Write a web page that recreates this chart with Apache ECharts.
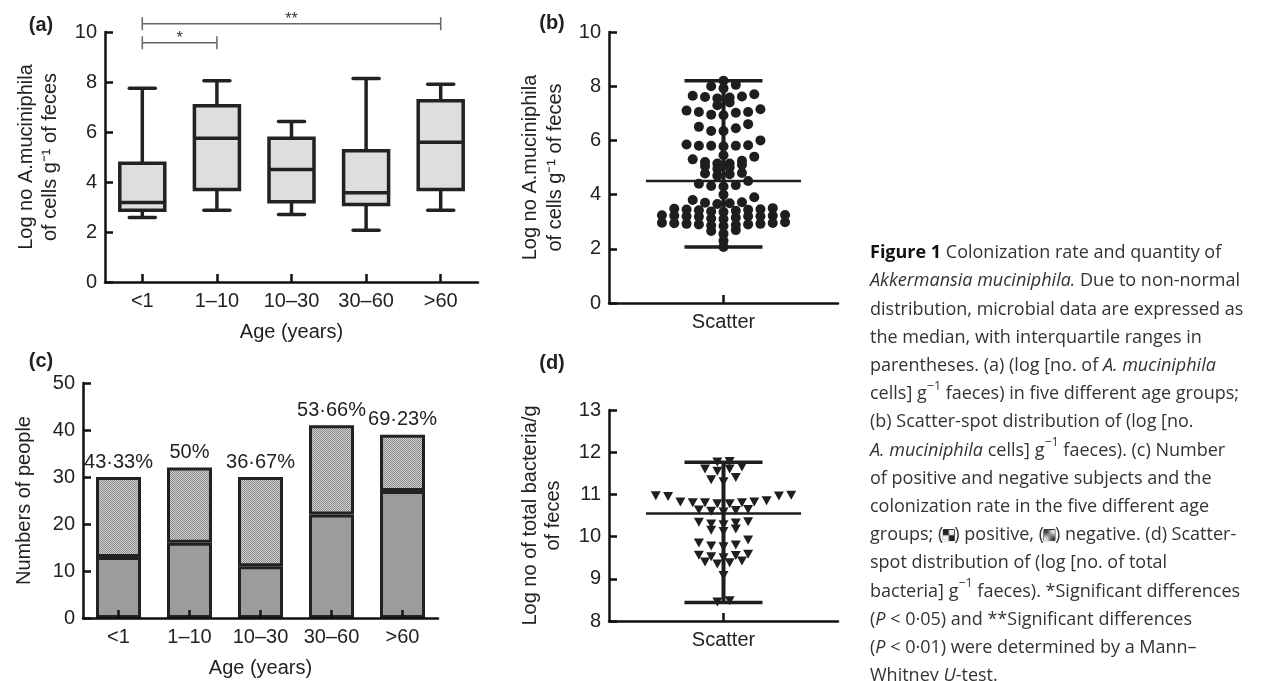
<!DOCTYPE html>
<html><head><meta charset="utf-8">
<script src="https://cdn.jsdelivr.net/npm/echarts@6/dist/echarts.min.js"></script>
<style>html,body{margin:0;padding:0;background:#fff}#c{width:1265px;height:681px}</style>
</head><body><div id="c"></div>
<script>
// ---------- data ----------
const ageGroups = ['<1', '1–10', '10–30', '30–60', '>60'];
const boxMin    = [2.58, 2.87, 2.70, 2.07, 2.87];
const boxQ1     = [2.87, 3.70, 3.21, 3.10, 3.70];
const boxMedian = [3.18, 5.75, 4.50, 3.57, 5.59];
const boxQ3     = [4.75, 7.05, 5.75, 5.25, 7.25];
const boxMax    = [7.75, 8.05, 6.42, 8.14, 7.91];
const sigFrom  = [0, 0];
const sigTo    = [1, 4];
const sigLevel = [9.57, 10.33];
const sigLabel = ['*', '**'];
const positives = [13, 16, 11, 22, 27];
const totals    = [30, 32, 30, 41, 39];
const akkValues = [8.2,
 8.05, 8.0, 7.92,
 7.7, 7.65, 7.62, 7.6, 7.58, 7.55,
 7.4, 7.3,
 7.15, 7.1, 7.05, 7.05, 7.02, 6.95, 6.93,
 6.6, 6.5, 6.45, 6.35, 6.35,
 6.0, 5.85, 5.82, 5.8, 5.8, 5.8, 5.78,
 5.45,
 5.4, 5.3, 5.25, 5.2, 5.15, 5.15,
 5.1, 5.05, 5.0, 4.95,
 4.8, 4.78, 4.75, 4.7,
 4.5, 4.4, 4.35, 4.32, 4.3,
 4.0,
 3.9, 3.8, 3.72, 3.7, 3.68, 3.65,
 3.5, 3.48, 3.46, 3.45, 3.44, 3.42, 3.4, 3.38, 3.36,
 3.25, 3.24, 3.22, 3.22, 3.2, 3.2, 3.2, 3.18, 3.15, 3.12, 3.1,
 2.98, 2.96, 2.95, 2.94, 2.92, 2.92, 2.9, 2.9, 2.88, 2.86, 2.84,
 2.69, 2.66, 2.55,
 2.3, 2.07];
const akkStats = [2.07, 4.5, 8.2];          // min, median, max
const totalValues = [11.78, 11.77,
 11.65, 11.6, 11.6, 11.55,
 11.4, 11.35, 11.3,
 10.98, 10.97, 10.96, 10.95, 10.85, 10.82, 10.82, 10.8, 10.8, 10.8, 10.78, 10.78,
 10.64, 10.63, 10.62, 10.6, 10.58,
 10.35, 10.34, 10.32, 10.3, 10.28,
 10.18, 10.15, 10.12,
 9.92, 9.85, 9.8, 9.78, 9.76,
 9.58, 9.56, 9.55, 9.52, 9.5,
 9.42, 9.4, 9.38, 9.35,
 9.08,
 8.48, 8.45];
const totalStats = [8.44, 10.55, 11.76];    // min, median, max

const captionLines = [
 '{b|Figure 1} Colonization rate and quantity of',
 '{i|Akkermansia muciniphila.} Due to non-normal',
 'distribution, microbial data are expressed as',
 'the median, with interquartile ranges in',
 'parentheses. (a) (log [no. of {i|A. muciniphila}',
 'cells] g{sup|−1} faeces) in five different age groups;',
 '(b) Scatter-spot distribution of (log [no.',
 '{i|A. muciniphila} cells] g{sup|−1} faeces). (c) Number',
 'of positive and negative subjects and the',
 'colonization rate in the five different age',
 'groups; ({pos| }) positive, ({neg| }) negative. (d) Scatter-',
 'spot distribution of (log [no. of total',
 'bacteria] g{sup|−1} faeces). *Significant differences',
 '({i|P} < 0·05) and **Significant differences',
 '({i|P} < 0·01) were determined by a Mann–',
 'Whitney {i|U}-test.'
];

// ---------- helpers ----------
const F = '"Liberation Sans", Arial, Helvetica, sans-serif';
const CF = '"Open Sans", sans-serif';
const CS = 18;
const INK = '#1e1e1e';

function pattern(a, b, size) {
  const c = document.createElement('canvas');
  c.width = c.height = 2 * size;
  const g = c.getContext('2d');
  g.fillStyle = a; g.fillRect(0, 0, 2 * size, 2 * size);
  g.fillStyle = b; g.fillRect(0, 0, size, size); g.fillRect(size, size, size, size);
  return c;
}
const negPat = pattern('#cdcdcd', '#8e8e8e', 1);
const posPat = pattern('#a3a3a3', '#959595', 1);

// GraphPad-like scatter layout: bin by value, spread each bin centre-out
function swarm(values, h, base) {
  const bins = new Map();
  values.forEach(v => {
    const k = Math.floor((v - base) / h + 1e-9);
    if (!bins.has(k)) bins.set(k, []);
    bins.get(k).push(v);
  });
  const pts = [];
  bins.forEach(arr => {
    arr.sort((a, b) => a - b);
    const n = arr.length;
    arr.forEach((v, i) => {
      let off;
      if (n % 2) off = i === 0 ? 0 : (i % 2 ? -(i + 1) / 2 : i / 2);
      else off = (i % 2 ? 1 : -1) * (Math.floor(i / 2) + 0.5);
      pts.push([off, v]);
    });
  });
  return pts;
}

function yAx(gi, min, max, interval, name, nameGap, lh) {
  return {
    type: 'value', gridIndex: gi, min, max, interval, name,
    nameLocation: 'middle', nameGap,
    nameTextStyle: { fontFamily: F, fontSize: 20, color: '#222', lineHeight: lh },
    axisLine: { show: true, onZero: false, lineStyle: { color: '#111', width: 2.5 } },
    axisTick: { show: true, inside: true, length: 8, lineStyle: { color: '#111', width: 2.5 } },
    axisLabel: { fontFamily: F, fontSize: 20, color: '#222', margin: 8 },
    splitLine: { show: false }
  };
}
function xCat(gi, data, name) {
  return {
    type: 'category', gridIndex: gi, data, boundaryGap: true, z: 10,
    name, nameLocation: 'middle', nameGap: 40,
    nameTextStyle: { fontFamily: F, fontSize: 20, color: '#222' },
    axisLine: { show: true, onZero: false, lineStyle: { color: '#111', width: 2.5 } },
    axisTick: { show: true, inside: true, alignWithLabel: true, length: 8, lineStyle: { color: '#111', width: 2.5 } },
    axisLabel: { fontFamily: F, fontSize: 20, color: '#222', margin: 9, interval: 0 },
    splitLine: { show: false }
  };
}
function xHidden(gi) {
  return { type: 'value', gridIndex: gi, min: -9.3, max: 9.3, show: false,
           axisLine: { onZero: false } };
}

function renderBox(params, api) {
  const x = api.value(0);
  const pMin = api.coord([x, api.value(1)]), pQ1 = api.coord([x, api.value(2)]),
        pMed = api.coord([x, api.value(3)]), pQ3 = api.coord([x, api.value(4)]),
        pMax = api.coord([x, api.value(5)]);
  const cx = pMin[0], hw = 22.5, cw = 13;
  const ls = { stroke: '#222', lineWidth: 3.5, fill: null };
  const cap = { stroke: '#222', lineWidth: 3.5, fill: null, lineCap: 'round' };
  return { type: 'group', children: [
    { type: 'line', shape: { x1: cx, y1: pMax[1], x2: cx, y2: pQ3[1] }, style: ls },
    { type: 'line', shape: { x1: cx, y1: pQ1[1], x2: cx, y2: pMin[1] }, style: ls },
    { type: 'line', shape: { x1: cx - cw, y1: pMax[1], x2: cx + cw, y2: pMax[1] }, style: cap },
    { type: 'line', shape: { x1: cx - cw, y1: pMin[1], x2: cx + cw, y2: pMin[1] }, style: cap },
    { type: 'rect', shape: { x: cx - hw, y: pQ3[1], width: 2 * hw, height: pQ1[1] - pQ3[1] },
      style: { fill: '#dedede', stroke: '#222', lineWidth: 3.5 } },
    { type: 'line', shape: { x1: cx - hw, y1: pMed[1], x2: cx + hw, y2: pMed[1] }, style: ls }
  ]};
}
function renderSig(params, api) {
  const a = api.coord([api.value(0), api.value(2)]);
  const b = api.coord([api.value(1), api.value(2)]);
  const st = { stroke: '#666', lineWidth: 1.5 };
  const t = 6.5;
  return { type: 'group', children: [
    { type: 'line', shape: { x1: a[0], y1: a[1], x2: b[0], y2: b[1] }, style: st },
    { type: 'line', shape: { x1: a[0], y1: a[1] - t, x2: a[0], y2: a[1] + t }, style: st },
    { type: 'line', shape: { x1: b[0], y1: b[1] - t, x2: b[0], y2: b[1] + t }, style: st },
    { type: 'text', x: (a[0] + b[0]) / 2, y: a[1] - 4,
      style: { text: sigLabel[params.dataIndex], fontFamily: F, fontSize: 16, fill: '#333',
               align: 'center', verticalAlign: 'middle' } }
  ]};
}
function renderSummary(params, api) {
  const pMin = api.coord([0, api.value(1)]), pMed = api.coord([0, api.value(2)]), pMax = api.coord([0, api.value(3)]);
  const cx = pMin[0];
  const s = (w) => ({ stroke: INK, lineWidth: w });
  return { type: 'group', children: [
    { type: 'line', shape: { x1: cx, y1: pMax[1], x2: cx, y2: pMin[1] }, style: s(4) },
    { type: 'line', shape: { x1: cx - 39, y1: pMax[1], x2: cx + 39, y2: pMax[1] }, style: s(3.5) },
    { type: 'line', shape: { x1: cx - 39, y1: pMin[1], x2: cx + 39, y2: pMin[1] }, style: s(3.5) },
    { type: 'line', shape: { x1: cx - 77.5, y1: pMed[1], x2: cx + 77.5, y2: pMed[1] }, style: s(2.5) }
  ]};
}

const negatives = totals.map((t, i) => t - positives[i]);
const pctLabels = totals.map((t, i) => {
  const p = (positives[i] / t * 100).toFixed(2).replace(/\.00$/, '');
  return p.replace('.', '·') + '%';
});

const chart = echarts.init(document.getElementById('c'), null, { renderer: 'canvas' });
chart.setOption({
  animation: false,
  backgroundColor: '#fff',
  textStyle: { fontFamily: F },
  grid: [
    { left: 105, top: 32, width: 373, height: 250 },
    { left: 609, top: 32, width: 229, height: 271 },
    { left: 83, top: 383, width: 355, height: 235 },
    { left: 609, top: 410, width: 229, height: 211 }
  ],
  xAxis: [
    xCat(0, ageGroups, 'Age (years)'),
    xCat(1, ['Scatter'], ''),
    xHidden(1),
    xCat(2, ageGroups, 'Age (years)'),
    xCat(3, ['Scatter'], ''),
    xHidden(3)
  ],
  yAxis: [
    yAx(0, 0, 10, 2, 'Log no A.muciniphila\nof cells g⁻¹ of feces', 43, 24),
    yAx(1, 0, 10, 2, 'Log no A.muciniphila\nof cells g⁻¹ of feces', 41, 25),
    yAx(2, 0, 50, 10, 'Numbers of people', 47, 24),
    yAx(3, 8, 13, 1, 'Log no of total bacteria/g\nof feces', 44, 23)
  ],
  series: [
    { type: 'custom', name: 'box', xAxisIndex: 0, yAxisIndex: 0, clip: false,
      encode: { x: 0, y: [1, 2, 3, 4, 5] },
      data: ageGroups.map((g, i) => [i, boxMin[i], boxQ1[i], boxMedian[i], boxQ3[i], boxMax[i]]),
      renderItem: renderBox },
    { type: 'custom', name: 'sig', xAxisIndex: 0, yAxisIndex: 0, clip: false,
      encode: { x: [0, 1], y: 2 },
      data: sigFrom.map((f, i) => [f, sigTo[i], sigLevel[i]]),
      renderItem: renderSig },
    { type: 'custom', name: 'akkSummary', xAxisIndex: 2, yAxisIndex: 1, clip: false, z: 1,
      encode: { x: 0, y: [1, 2, 3] },
      data: [[0, akkStats[0], akkStats[1], akkStats[2]]],
      renderItem: renderSummary },
    { type: 'scatter', name: 'akk', xAxisIndex: 2, yAxisIndex: 1, z: 3,
      symbol: 'circle', symbolSize: 10, itemStyle: { color: INK, opacity: 1 },
      data: swarm(akkValues, 0.3, 0.02) },
    { type: 'bar', name: 'positive', xAxisIndex: 3, yAxisIndex: 2, stack: 'n', barWidth: 45,
      itemStyle: { color: { image: posPat, repeat: 'repeat' }, borderColor: '#222', borderWidth: 3 },
      data: positives },
    { type: 'bar', name: 'negative', xAxisIndex: 3, yAxisIndex: 2, stack: 'n', barWidth: 45,
      itemStyle: { color: { image: negPat, repeat: 'repeat' }, borderColor: '#222', borderWidth: 3 },
      label: { show: true, position: 'top', distance: 5, fontFamily: F, fontSize: 20, color: '#222',
               formatter: p => pctLabels[p.dataIndex] },
      data: negatives },
    { type: 'custom', name: 'totalSummary', xAxisIndex: 5, yAxisIndex: 3, clip: false, z: 1,
      encode: { x: 0, y: [1, 2, 3] },
      data: [[0, totalStats[0], totalStats[1], totalStats[2]]],
      renderItem: renderSummary },
    { type: 'scatter', name: 'total', xAxisIndex: 5, yAxisIndex: 3, z: 3,
      symbol: 'triangle', symbolRotate: 180, symbolSize: [10, 9], itemStyle: { color: INK, opacity: 1 },
      data: swarm(totalValues, 0.25, 0) }
  ],
  graphic: [
    { type: 'text', x: 41, y: 25, style: { text: '(a)', fontFamily: F, fontSize: 20, fontWeight: 'bold', fill: '#222', align: 'center', verticalAlign: 'middle' } },
    { type: 'text', x: 552, y: 23, style: { text: '(b)', fontFamily: F, fontSize: 20, fontWeight: 'bold', fill: '#222', align: 'center', verticalAlign: 'middle' } },
    { type: 'text', x: 41, y: 361, style: { text: '(c)', fontFamily: F, fontSize: 20, fontWeight: 'bold', fill: '#222', align: 'center', verticalAlign: 'middle' } },
    { type: 'text', x: 552, y: 363, style: { text: '(d)', fontFamily: F, fontSize: 20, fontWeight: 'bold', fill: '#222', align: 'center', verticalAlign: 'middle' } },
    { type: 'text', x: 870, y: 239,
      style: {
        text: captionLines.join('\n'),
        fontFamily: CF, fontSize: CS, lineHeight: 28.2, fill: '#333',
        align: 'left', verticalAlign: 'top',
        rich: {
          b: { fontFamily: CF, fontSize: CS, lineHeight: 28.2, fontWeight: 'bold', fill: '#111' },
          i: { fontFamily: CF, fontSize: CS, lineHeight: 28.2, fontStyle: 'italic', fill: '#333' },
          sup: { fontFamily: CF, fontSize: 12.5, lineHeight: 18, verticalAlign: 'top', fill: '#333' },
          pos: { width: 11, height: 11, lineHeight: 28.2, backgroundColor: { image: pattern('#eeeeee', '#222222', 3) }, borderColor: '#222', borderWidth: 1 },
          neg: { width: 11, height: 11, lineHeight: 28.2, backgroundColor: { image: pattern('#dddddd', '#444444', 1) }, borderColor: '#222', borderWidth: 1 }
        }
      } }
  ]
});
</script>
</body></html>
